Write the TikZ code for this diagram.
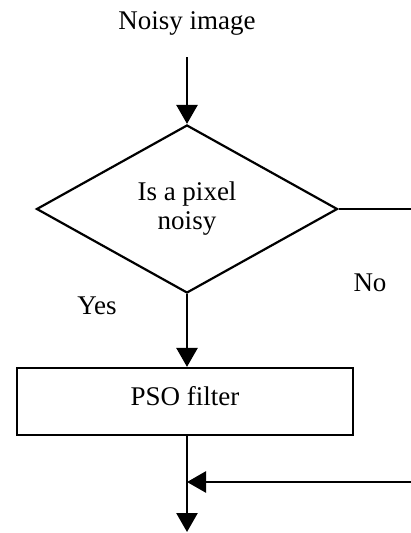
\documentclass[tikz,border=0pt]{standalone}
\usepackage{fontspec}
\setmainfont{Liberation Serif}
\usetikzlibrary{shapes.geometric,arrows.meta}
\begin{document}
\begin{tikzpicture}[x=1pt,y=-1pt,
  every node/.style={font=\fontsize{27}{29}\selectfont, text=black},
  flowline/.style={line width=2.6pt, draw=black},
  arr/.style={flowline, -{Triangle[length=19pt,width=21pt]}},
  shapeline/.style={line width=2.2pt, draw=black}]
\useasboundingbox (0,0) rectangle (411,533);
\node[anchor=base] (title) at (187,29) {Noisy image};
\coordinate (s) at (187,57);
\node[shapeline, diamond, minimum width=301pt, minimum height=168pt, inner sep=0pt, align=center] (d) at (187,209) {Is a pixel\\noisy};
\coordinate (r1) at (411,209);
\node[anchor=base] (no) at (370,291) {No};
\node[anchor=base] (yes) at (97,314) {Yes};
\node[shapeline, rectangle, minimum width=336pt, minimum height=67pt, inner sep=0pt, text height=18pt, text depth=10pt] (p) at (185,401.5) {PSO filter};
\coordinate (e) at (187,532);
\coordinate (r2) at (411,482);
\coordinate (j) at (187,482);
\draw[arr] (s) -- (d.north);
\draw[flowline] (d.east) -- (r1);
\draw[arr] (d.south) -- (d.south |- p.north);
\draw[arr] (d.south |- p.south) -- (e);
\draw[arr] (r2) -- (j);
\end{tikzpicture}
\end{document}
